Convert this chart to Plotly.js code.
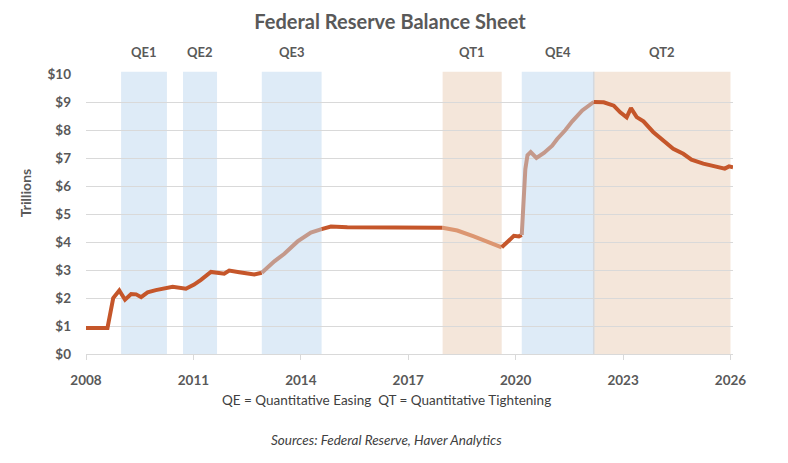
<!DOCTYPE html>
<html>
<head>
<meta charset="utf-8">
<script src="https://cdn.plot.ly/plotly-3.0.1.min.js"></script>
<style>html,body{margin:0;padding:0;background:#fff;}#chart{width:788px;height:463px;}</style>
</head>
<body>
<div id="chart"></div>
<script>
// ---- data ----
var dates = [2008.0, 2008.3, 2008.6, 2008.67, 2008.76, 2008.93, 2009.09, 2009.26, 2009.4, 2009.54, 2009.72, 2009.95,
  2010.23, 2010.42, 2010.79, 2011.02, 2011.21, 2011.49, 2011.86, 2012.0, 2012.28, 2012.46, 2012.7, 2012.91,
  2013.26, 2013.54, 2013.91, 2014.28, 2014.58, 2014.84, 2015.3, 2015.8, 2016.3, 2016.8, 2017.3, 2017.96,
  2018.37, 2018.83, 2019.25, 2019.61, 2019.81, 2019.95, 2020.09, 2020.17, 2020.22, 2020.27, 2020.33, 2020.42,
  2020.58, 2020.79, 2021.02, 2021.16, 2021.39, 2021.58, 2021.86, 2022.18, 2022.46, 2022.74, 2022.92, 2023.1,
  2023.22, 2023.38, 2023.57, 2023.84, 2024.12, 2024.4, 2024.68, 2024.91, 2025.24, 2025.61, 2025.84, 2025.96, 2026.07];
var assets = [0.93, 0.92, 0.93, 1.4, 2.0, 2.27, 1.94, 2.14, 2.13, 2.03, 2.2, 2.28,
  2.36, 2.40, 2.33, 2.48, 2.65, 2.93, 2.87, 2.98, 2.92, 2.90, 2.84, 2.90,
  3.31, 3.58, 4.02, 4.34, 4.46, 4.55, 4.53, 4.52, 4.54, 4.51, 4.51, 4.51,
  4.41, 4.20, 4.00, 3.81, 4.08, 4.22, 4.20, 4.25, 5.5, 6.6, 7.1, 7.21,
  7.0, 7.18, 7.44, 7.68, 8.0, 8.31, 8.70, 9.0, 8.99, 8.87, 8.63, 8.45,
  8.78, 8.46, 8.31, 7.93, 7.65, 7.33, 7.15, 6.94, 6.80, 6.70, 6.62, 6.70, 6.67];

var periodNames  = ["QE1", "QE2", "QE3", "QT1", "QE4", "QT2"];
var periodStarts = [2008.98, 2010.71, 2012.91, 2017.96, 2020.17, 2022.18];
var periodEnds   = [2010.26, 2011.66, 2014.58, 2019.61, 2022.18, 2026.0];

var xTicks = [2008, 2011, 2014, 2017, 2020, 2023, 2026];
var yTicks = [0, 1, 2, 3, 4, 5, 6, 7, 8, 9, 10];

// ---- styles ----
var baseLine = "#c5562a";
var lineTint = {QE3: "#c4998b", QE4: "#c4998b", QT1: "#dc9671"};
var bandFill = {QE: "#deebf7", QT: "#f4e6da"};
var font = "Lato, 'Open Sans', sans-serif";

function colorAt(t) {
  for (var k = 0; k < periodNames.length; k++) {
    if (t >= periodStarts[k] && t <= periodEnds[k]) {
      return lineTint[periodNames[k]] || baseLine;
    }
  }
  return baseLine;
}

// split the line into colour runs (segments share their end points)
var traces = [];
var cur = null;
for (var i = 0; i < dates.length - 1; i++) {
  var c = colorAt((dates[i] + dates[i + 1]) / 2);
  if (!cur || cur.line.color !== c) {
    cur = {x: [dates[i]], y: [assets[i]], type: "scatter", mode: "lines",
      line: {color: c, width: 4, shape: "linear"}, hoverinfo: "skip", showlegend: false};
    traces.push(cur);
  }
  cur.x.push(dates[i + 1]);
  cur.y.push(assets[i + 1]);
}

var shapes = [];
var annotations = [];
for (var k = 0; k < periodNames.length; k++) {
  shapes.push({type: "rect", layer: "below", xref: "x", yref: "paper",
    x0: periodStarts[k], x1: periodEnds[k], y0: 0, y1: 1.008,
    fillcolor: bandFill[periodNames[k].slice(0, 2)], line: {width: 0}});
  annotations.push({xref: "x", yref: "paper", x: (periodStarts[k] + periodEnds[k]) / 2, y: 1.08,
    text: "<b>" + periodNames[k] + "</b>", showarrow: false, yanchor: "middle",
    font: {family: font, size: 13, color: "#595959"}});
}
shapes.push({type: "line", layer: "below", xref: "x", yref: "paper",
  x0: periodEnds[4], x1: periodEnds[4], y0: 0, y1: 1.008, line: {color: "#d3d9e0", width: 1.5}});

annotations.push({xref: "paper", yref: "paper", x: -0.094, y: 0.575, textangle: -90,
  xanchor: "center", yanchor: "middle",
  text: "<b>Trillions</b>", showarrow: false, font: {family: font, size: 14, color: "#595959"}});
annotations.push({xref: "paper", yref: "paper", x: 0.464, y: -0.163, yanchor: "middle",
  text: "QE = Quantitative Easing  QT = Quantitative Tightening", showarrow: false,
  font: {family: font, size: 13.5, color: "#404040"}});
annotations.push({xref: "paper", yref: "paper", x: 0.464, y: -0.306, yanchor: "middle",
  text: "<i>Sources: Federal Reserve, Haver Analytics</i>", showarrow: false,
  font: {family: font, size: 13.5, color: "#404040"}});

var layout = {
  width: 788, height: 463,
  margin: {l: 86, r: 55, t: 74, b: 109},
  paper_bgcolor: "#ffffff", plot_bgcolor: "rgba(0,0,0,0)",
  title: {text: "<b>Federal Reserve Balance Sheet</b>", xref: "container", x: 0.495, yref: "container",
    y: 1 - 22 / 463, yanchor: "middle", font: {family: font, size: 20, color: "#595959"}},
  xaxis: {range: [2008, 2026.07], tickvals: xTicks, ticktext: xTicks.map(String), showgrid: false,
    zeroline: false, showline: true, linecolor: "#d9d9d9", linewidth: 1, ticks: "outside",
    ticklen: 5, tickcolor: "#d9d9d9", ticklabelstandoff: 9,
    tickfont: {family: font, size: 13.5, color: "#595959", weight: "bold"}},
  yaxis: {range: [0, 10], tickvals: yTicks, ticktext: yTicks.map(function (v) { return "$" + v; }),
    showgrid: true, gridcolor: "#d9d9d9", gridwidth: 1, zeroline: false, showline: false, ticks: "",
    ticklabelstandoff: 14, tickfont: {family: font, size: 13.5, color: "#595959", weight: "bold"}},
  shapes: shapes,
  annotations: annotations,
  showlegend: false
};

Plotly.newPlot("chart", traces, layout, {displayModeBar: false, staticPlot: true});
</script>
</body>
</html>
